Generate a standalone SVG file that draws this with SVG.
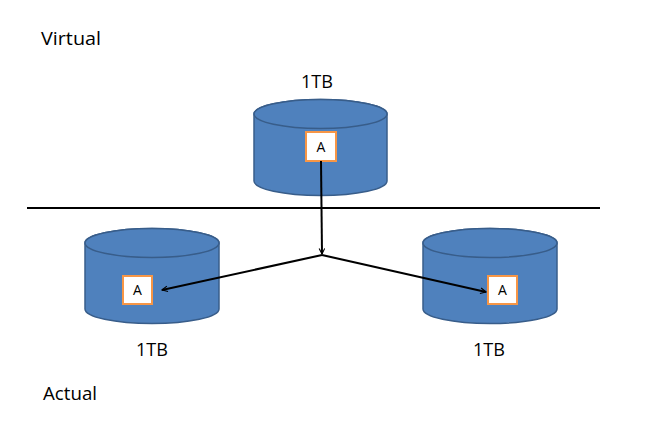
<svg xmlns="http://www.w3.org/2000/svg" width="646" height="441" viewBox="0 0 646 441">
<style>
.cyl{fill:#4F81BD;stroke:#385D8A;stroke-width:1.5}
.box{fill:#FFFFFF;stroke:#F79646;stroke-width:2}
text{font-family:"Open Sans","Liberation Sans","DejaVu Sans",sans-serif;fill:#000}
.lbl{font-size:18px}
.a{font-size:14px}
.ln{stroke:#000;stroke-width:2;fill:none}
</style>
<defs>
<marker id="arr" viewBox="0 0 10 10" refX="9" refY="5" markerWidth="7" markerHeight="7" orient="auto" markerUnits="userSpaceOnUse">
<path d="M1,1 L9,5 L1,9" fill="none" stroke="#000" stroke-width="1.6"/>
</marker>
</defs>
<rect width="646" height="441" fill="#FFFFFF"/>
<text class="lbl" x="41" y="45" textLength="60" lengthAdjust="spacingAndGlyphs">Virtual</text>
<text class="lbl" x="43" y="400" textLength="54" lengthAdjust="spacingAndGlyphs">Actual</text>
<line class="ln" x1="27" y1="208" x2="600" y2="208"/>
<g id="virtual">
<path class="cyl" d="M254,114 L254,181 A66.5,14.5 0 0 0 387,181 L387,114 A66.5,14.5 0 0 0 254,114 Z"/>
<ellipse class="cyl" cx="320.5" cy="114" rx="66.5" ry="14.5"/>
<rect class="box" x="306" y="132" width="30" height="29"/>
<text class="a" x="321" y="152" text-anchor="middle">A</text>
<text class="lbl" x="317" y="88" text-anchor="middle" textLength="32" lengthAdjust="spacingAndGlyphs">1TB</text>
</g>
<g id="left">
<path class="cyl" d="M85,243 L85,309 A67,14.5 0 0 0 219,309 L219,243 A67,14.5 0 0 0 85,243 Z"/>
<ellipse class="cyl" cx="152" cy="243" rx="67" ry="14.5"/>
<rect class="box" x="123" y="276" width="29" height="28"/>
<text class="a" x="137.5" y="295" text-anchor="middle">A</text>
<text class="lbl" x="152" y="356" text-anchor="middle" textLength="32" lengthAdjust="spacingAndGlyphs">1TB</text>
</g>
<g id="right">
<path class="cyl" d="M423,243 L423,309 A67,14.5 0 0 0 557,309 L557,243 A67,14.5 0 0 0 423,243 Z"/>
<ellipse class="cyl" cx="490" cy="243" rx="67" ry="14.5"/>
<rect class="box" x="488" y="276" width="29" height="28"/>
<text class="a" x="502.5" y="295" text-anchor="middle">A</text>
<text class="lbl" x="489" y="356" text-anchor="middle" textLength="32" lengthAdjust="spacingAndGlyphs">1TB</text>
</g>
<g id="connectors">
<line class="ln" x1="321" y1="161" x2="322" y2="254" marker-end="url(#arr)"/>
<line class="ln" x1="322" y1="255" x2="162" y2="290" marker-end="url(#arr)"/>
<line class="ln" x1="322" y1="255" x2="486" y2="292" marker-end="url(#arr)"/>
</g>
</svg>
